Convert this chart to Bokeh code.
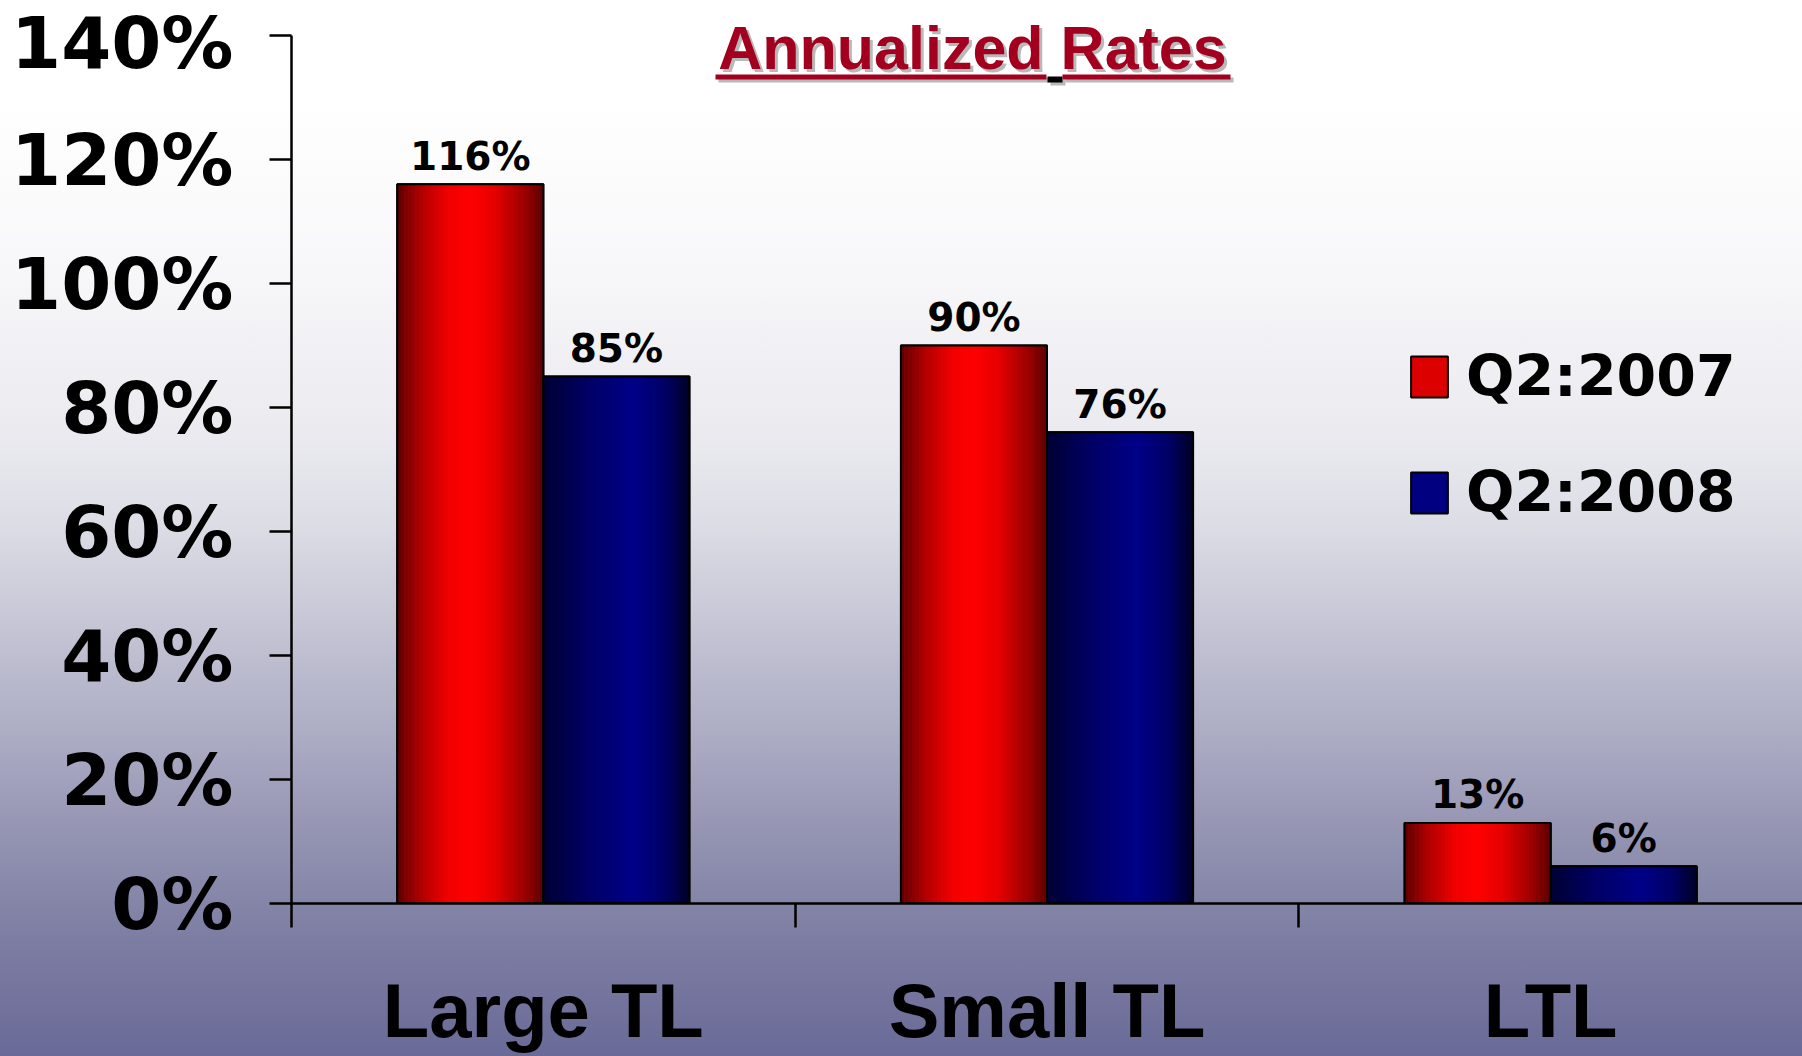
import numpy as np
from bokeh.plotting import figure
from bokeh.models import (Range1d, FixedTicker, NumeralTickFormatter, CustomJSTickFormatter,
                          ColumnDataSource, Legend, LegendItem, Label, BoxAnnotation)
from bokeh.core.properties import value
from bokeh.embed import file_html
from bokeh.resources import INLINE

# ---------------- data ----------------
categories = ["Large TL", "Small TL", "LTL"]
q2_2007 = [1.16, 0.90, 0.13]
q2_2008 = [0.85, 0.76, 0.06]
series_names = ["Q2:2007", "Q2:2008"]
y_ticks = [0.0, 0.2, 0.4, 0.6, 0.8, 1.0, 1.2, 1.4]
title_text = "Annualized Rates"

# ---------------- layout / style ----------------
W, H = 1802, 1056
FRAME_L, FRAME_B = 291, 903
TOP_PAD = 35            # px between canvas top and the 140% tick
BAR_W = 0.29
N_STRIPES = 40
NUM_FONT = "DejaVu Sans"
CAT_FONT = "Liberation Sans"

red_stops = [(0.0, (92, 0, 0)), (0.15, (170, 0, 0)), (0.35, (242, 0, 0)), (0.5, (255, 0, 0)),
             (0.66, (232, 0, 0)), (0.86, (160, 0, 0)), (1.0, (92, 0, 0))]
blue_stops = [(0.0, (0, 0, 48)), (0.3, (0, 0, 100)), (0.62, (0, 0, 136)), (0.82, (0, 0, 104)),
              (1.0, (0, 0, 40))]


def grad(stops, t):
    ts = [s[0] for s in stops]
    out = [int(round(np.interp(t, ts, [s[1][c] for s in stops]))) for c in range(3)]
    return "#%02x%02x%02x" % tuple(out)


y_top = y_ticks[-1]
y_end = y_top * FRAME_B / (FRAME_B - TOP_PAD)

p = figure(width=W, height=H, output_backend="svg", toolbar_location=None, tools="",
           x_range=Range1d(0, len(categories)), y_range=Range1d(0, y_end),
           min_border_left=FRAME_L, min_border_right=0, min_border_top=0,
           min_border_bottom=H - FRAME_B,
           background_fill_alpha=0, border_fill_alpha=0, outline_line_alpha=0,
           styles={"position": "fixed", "left": "0px", "top": "0px",
                   "background": "linear-gradient(to bottom, #ffffff 0%, #ffffff 9%, #f7f7f9 26%, "
                                 "#e9e9ef 42%, #dcdce5 50%, #a6a6c0 72%, #8f8faf 81%, "
                                 "#7d7da3 89%, #6a6a98 100%)"})
p.xgrid.visible = False
p.ygrid.visible = False

centers = np.arange(len(categories)) + 0.5
series = [(q2_2007, -1, red_stops, "#dd0000"), (q2_2008, 0, blue_stops, "#000080")]

legend_items = []
for (vals, side, stops, solid), name in zip(series, series_names):
    bar_x = centers + side * BAR_W + BAR_W / 2
    base = p.vbar(x=bar_x, top=vals, width=BAR_W, bottom=0, fill_color=solid,
                  line_color="black", line_width=2)
    legend_items.append(LegendItem(label=name, renderers=[base]))
    # gradient stripes
    sx, stop, scol = [], [], []
    for i, v in enumerate(vals):
        left = bar_x[i] - BAR_W / 2
        for k in range(N_STRIPES):
            t = (k + 0.5) / N_STRIPES
            sx.append(left + t * BAR_W)
            stop.append(v)
            scol.append(grad(stops, t))
    p.vbar(x="x", top="top", width=BAR_W / N_STRIPES * 1.08, bottom=0, fill_color="c",
           line_alpha=0, source=ColumnDataSource(dict(x=sx, top=stop, c=scol)))
    # outline
    p.vbar(x=bar_x, top=vals, width=BAR_W, bottom=0, fill_alpha=0,
           line_color="black", line_width=2)
    # value labels
    p.text(x=bar_x, y=vals, text=["%d%%" % round(v * 100) for v in vals],
           text_align="center", text_baseline="middle", y_offset=-28,
           text_font=value(NUM_FONT), text_font_style="bold", text_font_size="39px",
           text_color="black")

# ---------------- axes ----------------
xa = p.xaxis[0]
xa.ticker = FixedTicker(ticks=list(centers), minor_ticks=list(range(len(categories))))
xa.formatter = CustomJSTickFormatter(args=dict(cats=categories),
                                     code="const i = Math.floor(tick); return (i >= 0 && i < cats.length) ? cats[i] : '';")
xa.major_tick_in = 0
xa.major_tick_out = 0
xa.minor_tick_in = 0
xa.minor_tick_out = 24
xa.minor_tick_line_color = "black"
xa.minor_tick_line_width = 2.5
xa.axis_line_color = "black"
xa.axis_line_width = 2.5
xa.major_label_standoff = 40
xa.major_label_text_font = CAT_FONT
xa.major_label_text_font_style = "bold"
xa.major_label_text_font_size = "76px"
xa.major_label_text_color = "black"

ya = p.yaxis[0]
ya.bounds = (y_ticks[0], y_top)
ya.ticker = FixedTicker(ticks=y_ticks, minor_ticks=[])
ya.formatter = NumeralTickFormatter(format="0%")
ya.major_tick_in = 0
ya.major_tick_out = 22
ya.major_tick_line_color = "black"
ya.major_tick_line_width = 2.5
ya.minor_tick_line_alpha = 0
ya.axis_line_color = "black"
ya.axis_line_width = 2.5
ya.major_label_standoff = 36
ya.major_label_text_font = NUM_FONT
ya.major_label_text_font_style = "bold"
ya.major_label_text_font_size = "72px"
ya.major_label_text_color = "black"

# ---------------- legend ----------------
legend = Legend(items=legend_items, location=(1115, 378), orientation="vertical",
                glyph_width=46, glyph_height=51, label_standoff=14, spacing=50,
                padding=0, margin=0, border_line_alpha=0, background_fill_alpha=0,
                label_text_font=NUM_FONT, label_text_font_style="bold",
                label_text_font_size="57px", label_text_color="black")
p.add_layout(legend, "center")

# ---------------- title (with shadow and underline) ----------------
TITLE_CX, TITLE_MID = 972, 47  # page px
tx = TITLE_CX - FRAME_L
ty = FRAME_B - TITLE_MID
for dx, dy, col in [(3, -3, "#b9b9b9"), (0, 0, "#a3001f")]:
    p.add_layout(Label(x=tx + dx, y=ty + dy, x_units="screen", y_units="screen", text=title_text,
                       text_align="center", text_baseline="middle", text_font=CAT_FONT,
                       text_font_style="bold", text_font_size="61px", text_color=col))

ul_segments = [(715, 1046, 74, 79, "#a3001f"), (1047, 1062, 76, 82, "black"), (1062, 1230, 74, 79, "#a3001f")]
for sh in (True, False):
    for (l, r, t, b, col) in ul_segments:
        off = 3 if sh else 0
        p.add_layout(BoxAnnotation(left=l - FRAME_L + off, right=r - FRAME_L + off,
                                   top=FRAME_B - t - off, bottom=FRAME_B - b - off,
                                   left_units="screen", right_units="screen",
                                   top_units="screen", bottom_units="screen",
                                   fill_color="#b9b9b9" if sh else col, fill_alpha=1,
                                   line_alpha=0, level="overlay"))

open("out.html", "w").write(file_html(p, INLINE))
